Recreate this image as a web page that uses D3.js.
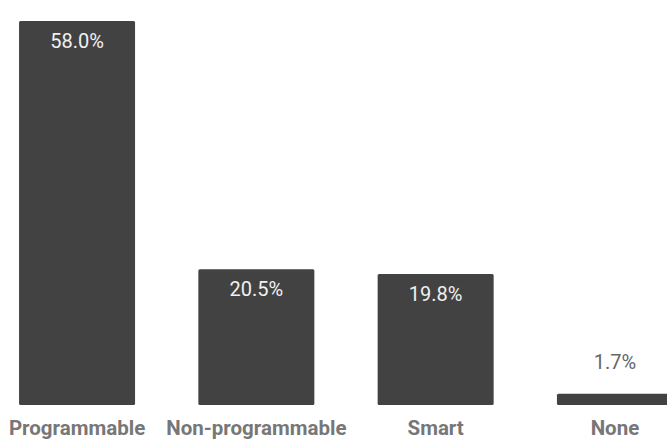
<!DOCTYPE html>
<html>
<head>
<meta charset="utf-8">
<script src="https://cdn.jsdelivr.net/npm/d3@7"></script>
<style>
  html, body { margin: 0; padding: 0; background: #fff; overflow: hidden; }
  svg { display: block; font-family: Roboto, "Noto Sans", sans-serif; }
</style>
</head>
<body>
<svg id="chart" width="667" height="440"></svg>
<script>
// Thermostat types share
const categories = ["Programmable", "Non-programmable", "Smart", "None"];
const shares = [58.0, 20.5, 19.8, 1.7];
const valueLabels = ["58.0%", "20.5%", "19.8%", "1.7%"];

const width = 667, height = 440;
const svg = d3.select("#chart");

const x = d3.scaleBand()
  .domain(categories)
  .range([-12.6, 704.6])
  .paddingInner(0.353)
  .paddingOuter(0.1765);

const y = d3.scaleLinear()
  .domain([0, 58])
  .range([405, 21]);

const data = categories.map((c, i) => ({ cat: c, v: shares[i], label: valueLabels[i] }));

// bars
svg.append("g").selectAll("rect")
  .data(data)
  .join("rect")
  .attr("x", d => x(d.cat))
  .attr("y", d => y(d.v))
  .attr("width", x.bandwidth())
  .attr("height", d => y(0) - y(d.v))
  .attr("rx", 1.5)
  .attr("fill", "#424242");

// value labels: inside tall bars, above short ones
svg.append("g").selectAll("text")
  .data(data)
  .join("text")
  .attr("x", d => x(d.cat) + x.bandwidth() / 2)
  .attr("y", d => (y(0) - y(d.v) > 40) ? y(d.v) + 27 : y(d.v) - 25)
  .attr("text-anchor", "middle")
  .attr("font-size", 20)
  .attr("fill", d => (y(0) - y(d.v) > 40) ? "#f0f0f0" : "#666666")
  .text(d => d.label);

// category axis
const axis = d3.axisBottom(x).tickSize(0).tickPadding(0);
const gx = svg.append("g")
  .attr("transform", `translate(0,${y(0)})`)
  .call(axis);
gx.select(".domain").remove();
gx.selectAll("text")
  .attr("y", 30)
  .attr("dy", 0)
  .attr("font-size", 20.5)
  .attr("font-weight", "bold")
  .attr("font-family", "Roboto, sans-serif")
  .attr("fill", "#777777");
</script>
</body>
</html>
